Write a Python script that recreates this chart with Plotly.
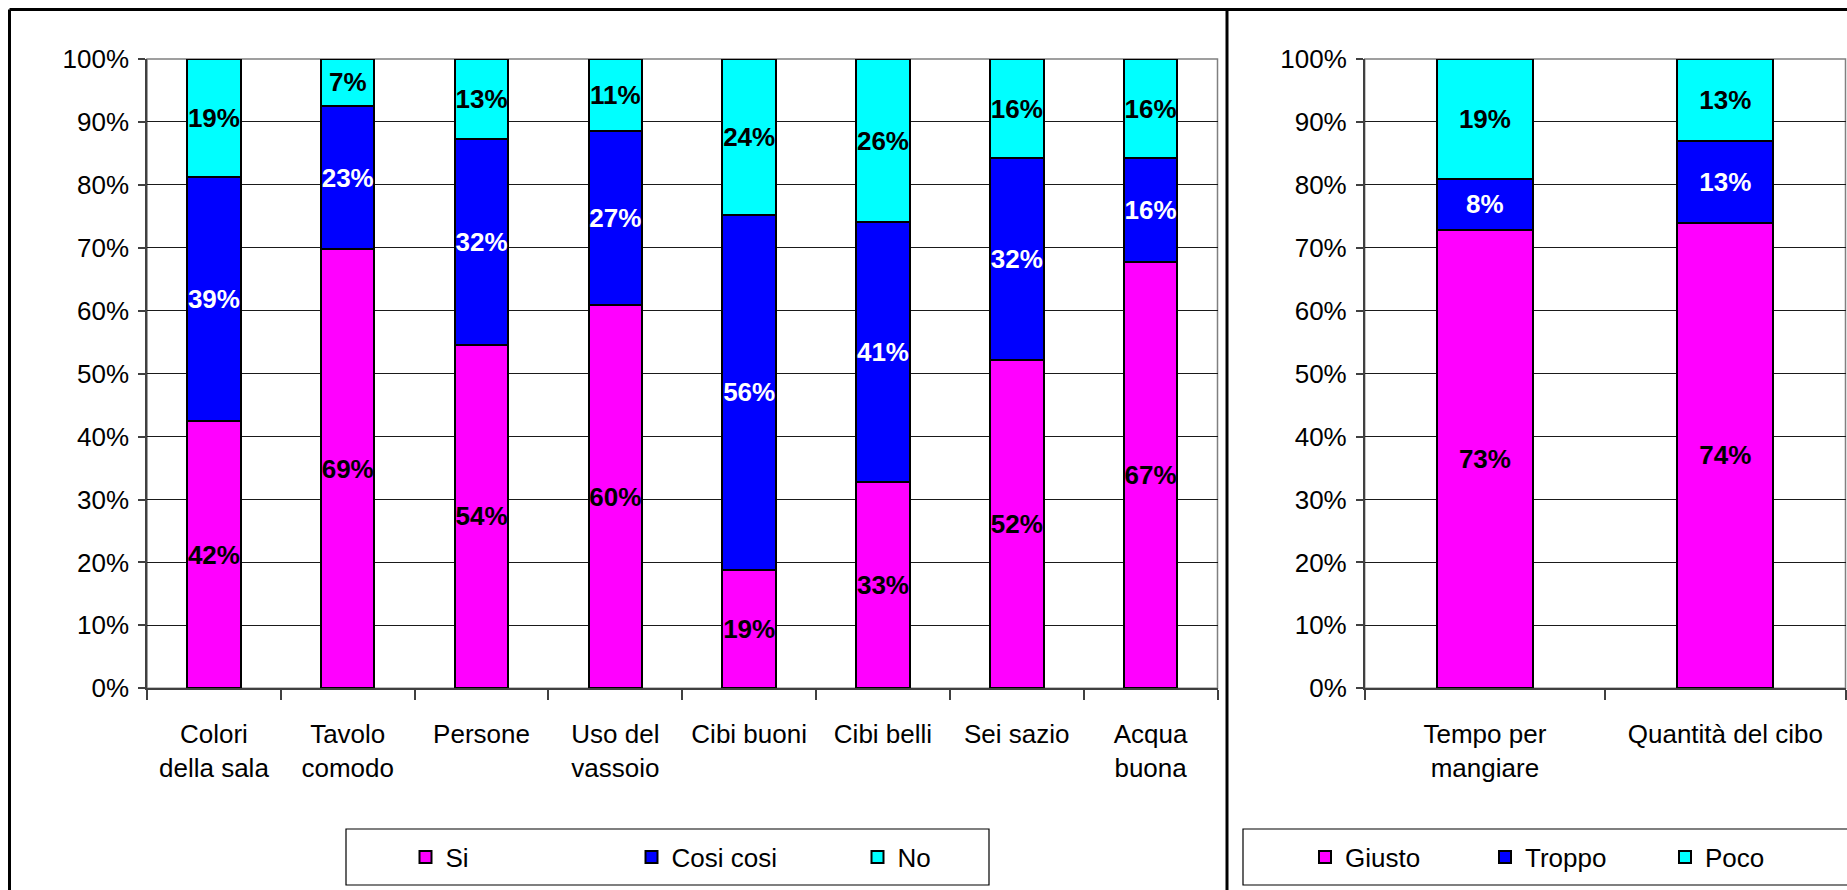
import plotly.graph_objects as go

W, H = 1847, 890

# ---------------- data ----------------
categories_left = ["Colori<br>della sala", "Tavolo<br>comodo", "Persone", "Uso del<br>vassoio",
                   "Cibi buoni", "Cibi belli", "Sei sazio", "Acqua<br>buona"]
si_values = [42.4, 69.3, 54.3, 60.3, 18.6, 32.7, 52.2, 67.4]
cosi_values = [38.8, 22.6, 32.4, 27.4, 55.6, 41.3, 32.0, 16.4]
no_values = [18.8, 7.4, 12.7, 11.4, 24.4, 25.9, 15.8, 15.7]

categories_right = ["Tempo per<br>mangiare", "Quantità del cibo"]
giusto_values = [72.9, 74.0]
troppo_values = [8.1, 13.0]
poco_values = [19.0, 13.0]

y_tick_values = [0, 10, 20, 30, 40, 50, 60, 70, 80, 90, 100]
y_tick_labels = ["0%", "10%", "20%", "30%", "40%", "50%", "60%", "70%", "80%", "90%", "100%"]

# ---------------- style ----------------
FONT = "Liberation Sans, Arial, sans-serif"
FS = 26
MAGENTA, BLUE, CYAN = "#FF00FF", "#0000FF", "#00FFFF"


def px(x):
    return x / W


def py(y):
    return 1 - y / H


def labels(vals):
    return [f"{round(v)}%" for v in vals]


fig = go.Figure()

series_left = [("Si", si_values, MAGENTA, "black"),
               ("Cosi cosi", cosi_values, BLUE, "white"),
               ("No", no_values, CYAN, "black")]
series_right = [("Giusto", giusto_values, MAGENTA, "black"),
                ("Troppo", troppo_values, BLUE, "white"),
                ("Poco", poco_values, CYAN, "black")]

for name, vals, col, tcol in series_left:
    fig.add_trace(go.Bar(
        x=categories_left, y=vals, name=name, xaxis="x", yaxis="y", legend="legend",
        marker=dict(color=col, line=dict(color="black", width=2)),
        text=labels(vals), textposition="inside", insidetextanchor="middle",
        textangle=0, constraintext="none",
        textfont=dict(family=FONT, size=FS, color=tcol, weight="bold"),
        hoverinfo="skip"))

for name, vals, col, tcol in series_right:
    fig.add_trace(go.Bar(
        x=categories_right, y=vals, name=name, xaxis="x2", yaxis="y2", legend="legend2",
        marker=dict(color=col, line=dict(color="black", width=2)),
        text=labels(vals), textposition="inside", insidetextanchor="middle",
        textangle=0, constraintext="none",
        textfont=dict(family=FONT, size=FS, color=tcol, weight="bold"),
        hoverinfo="skip"))

ydom = [py(688.3), py(59)]
axis_common_y = dict(
    range=[0, 100], tickmode="array", tickvals=y_tick_values, ticktext=y_tick_labels,
    showgrid=True, gridcolor="#1a1a1a", gridwidth=1,
    showline=True, linecolor="#404040", linewidth=1.5,
    ticks="outside", ticklen=7, tickcolor="#404040", tickwidth=1.5,
    tickfont=dict(family=FONT, size=FS, color="black"), ticklabelstandoff=4,
    zeroline=False, fixedrange=True, automargin=False, domain=ydom)
axis_common_x = dict(
    type="category", showgrid=False, showline=True, linecolor="#404040", linewidth=1.5,
    ticks="outside", ticklen=10, tickcolor="#404040", tickwidth=1.5, tickson="boundaries",
    tickangle=0, tickfont=dict(family=FONT, size=FS, color="black"), ticklabelstandoff=22,
    fixedrange=True, automargin=False)

fig.update_layout(
    width=W, height=H, margin=dict(l=0, r=0, t=0, b=0, pad=0, autoexpand=False),
    paper_bgcolor="white", plot_bgcolor="white",
    barmode="stack", barnorm="percent", bargap=0.6,
    uniformtext=dict(minsize=FS, mode="show"),
    font=dict(family=FONT, size=FS, color="black"),
    xaxis=dict(domain=[px(147), px(1217.5)], anchor="y", **axis_common_x),
    yaxis=dict(anchor="x", **axis_common_y),
    xaxis2=dict(domain=[px(1364.7), px(1845.5)], anchor="y2", **axis_common_x),
    yaxis2=dict(anchor="x2", **axis_common_y),
    legend=dict(orientation="h", x=px(405.5), y=py(857), xanchor="left", yanchor="middle",
                font=dict(family=FONT, size=FS, color="black"), bgcolor="rgba(0,0,0,0)",
                borderwidth=0, entrywidth=181, entrywidthmode="pixels", traceorder="normal",
                itemclick=False, itemdoubleclick=False),
    legend2=dict(orientation="h", x=px(1305), y=py(857), xanchor="left", yanchor="middle",
                 font=dict(family=FONT, size=FS, color="black"), bgcolor="rgba(0,0,0,0)",
                 borderwidth=0, entrywidth=135, entrywidthmode="pixels", traceorder="normal",
                 itemclick=False, itemdoubleclick=False),
)

# plot-area frames (grey)
for xr, yr in (("x domain", "y domain"), ("x2 domain", "y2 domain")):
    fig.add_shape(type="rect", xref=xr, yref=yr, x0=0, x1=1, y0=0, y1=1,
                  line=dict(color="#808080", width=1.5), layer="below")

# chart-area borders
border = dict(color="black", width=3)
fig.add_shape(type="line", xref="paper", yref="paper", x0=px(9.5), x1=1.01, y0=py(9.5), y1=py(9.5), line=border)
fig.add_shape(type="line", xref="paper", yref="paper", x0=px(9.5), x1=px(9.5), y0=py(9.5), y1=-0.01, line=border)
fig.add_shape(type="line", xref="paper", yref="paper", x0=px(1227), x1=px(1227), y0=py(9.5), y1=-0.01, line=border)

# legend frames
lframe = dict(color="black", width=1.2)
fig.add_shape(type="rect", xref="paper", yref="paper", x0=px(346), x1=px(989), y0=py(885), y1=py(829), line=lframe)
fig.add_shape(type="rect", xref="paper", yref="paper", x0=px(1243), x1=1.01, y0=py(885), y1=py(829), line=lframe)

fig.write_html("out.html", config={"displayModeBar": False},
               post_script="document.body.style.margin='0px';document.body.style.overflow='hidden';")
